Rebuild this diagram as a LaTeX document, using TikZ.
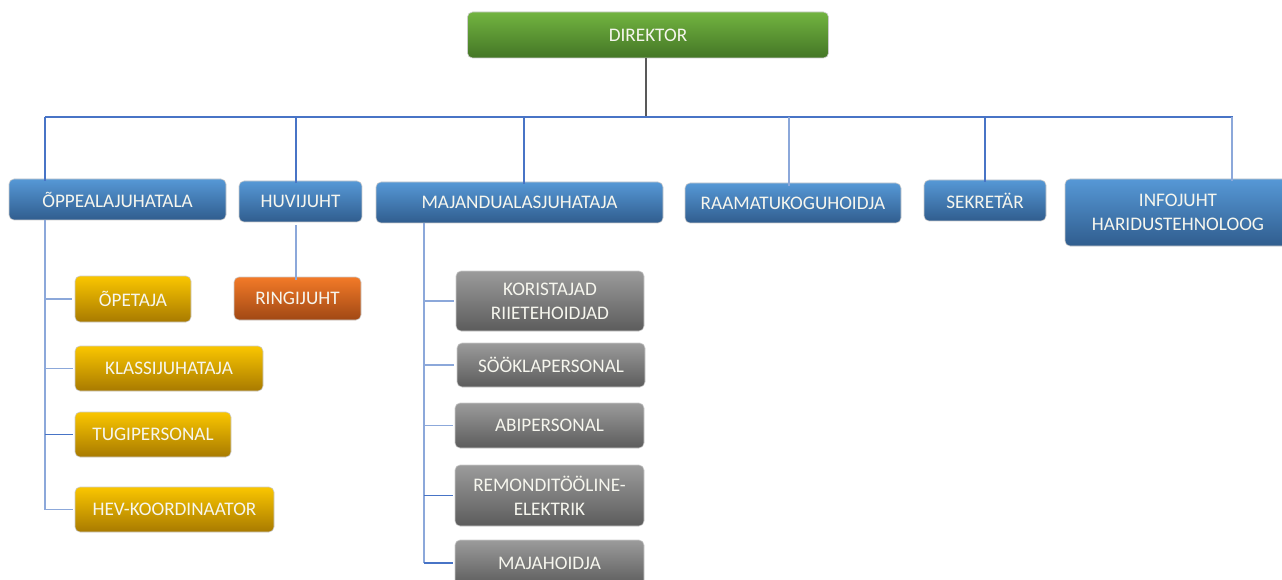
\documentclass[tikz,border=0pt]{standalone}
\usepackage{fontspec}
\setmainfont{Carlito}
\definecolor{bluetop}{RGB}{86,152,214}
\definecolor{bluebot}{RGB}{48,93,142}
\definecolor{greentop}{RGB}{114,180,64}
\definecolor{greenbot}{RGB}{68,118,38}
\definecolor{goldtop}{RGB}{250,198,0}
\definecolor{goldbot}{RGB}{168,122,0}
\definecolor{orangetop}{RGB}{243,122,40}
\definecolor{orangebot}{RGB}{160,72,20}
\definecolor{graytop}{RGB}{155,155,155}
\definecolor{graybot}{RGB}{92,92,92}
\definecolor{linecol}{RGB}{72,116,198}
\definecolor{linelight}{RGB}{140,168,218}
\definecolor{txt}{RGB}{246,246,238}
\tikzset{
  box/.style={rectangle, rounded corners=5pt, draw=white!80!black, line width=0.6pt,
    text=txt, font=\fontsize{19.2}{24}\selectfont, align=center, inner sep=0pt},
  bluebox/.style={box, top color=bluetop, bottom color=bluebot},
  greenbox/.style={box, top color=greentop, bottom color=greenbot},
  goldbox/.style={box, top color=goldtop, bottom color=goldbot},
  orangebox/.style={box, top color=orangetop, bottom color=orangebot},
  graybox/.style={box, top color=graytop, bottom color=graybot},
  conn/.style={draw=linecol, line width=1.1pt},
  connl/.style={draw=linelight, line width=1.3pt},
}
\begin{document}
\begin{tikzpicture}[x=1pt,y=-1pt]
\useasboundingbox (0,0) rectangle (1282,580);
% top
\node[greenbox, minimum width=361pt, minimum height=46pt] (dir) at (648,35) {DIREKTOR};
% level 1
\node[bluebox, minimum width=217pt, minimum height=41pt] (opp) at (117.5,199.5) {ÕPPEALAJUHATALA};
\node[bluebox, minimum width=123pt, minimum height=41pt] (huvi) at (300.5,201.5) {HUVIJUHT};
\node[bluebox, minimum width=287pt, minimum height=41pt] (maj) at (519.5,202.5) {MAJANDUALASJUHATAJA};
\node[bluebox, minimum width=216pt, minimum height=40pt] (raam) at (793,203) {RAAMATUKOGUHOIDJA};
\node[bluebox, minimum width=122pt, minimum height=41pt] (sekr) at (985,200.5) {SEKRETÄR};
\node[bluebox, minimum width=226pt, minimum height=67pt] (info) at (1178,212.5) {INFOJUHT\\HARIDUSTEHNOLOOG};
% level 2 left
\node[goldbox, minimum width=116pt, minimum height=46pt] (ope) at (133,299) {ÕPETAJA};
\node[goldbox, minimum width=188pt, minimum height=45pt] (klass) at (169,368.5) {KLASSIJUHATAJA};
\node[goldbox, minimum width=156pt, minimum height=45pt] (tugi) at (153,434.5) {TUGIPERSONAL};
\node[goldbox, minimum width=199pt, minimum height=45pt] (hev) at (174.5,509.5) {HEV-KOORDINAATOR};
\node[orangebox, minimum width=127pt, minimum height=43pt] (ring) at (297.5,298.5) {RINGIJUHT};
% level 2 majand
\node[graybox, minimum width=188pt, minimum height=60pt] (kor) at (550,301) {KORISTAJAD\\RIIETEHOIDJAD};
\node[graybox, minimum width=188pt, minimum height=44pt] (soo) at (551,365) {SÖÖKLAPERSONAL};
\node[graybox, minimum width=189pt, minimum height=45pt] (abi) at (549.5,425.5) {ABIPERSONAL};
\node[graybox, minimum width=189pt, minimum height=61pt] (rem) at (549.5,495.5) {REMONDITÖÖLINE-\\ELEKTRIK};
\node[graybox, minimum width=189pt, minimum height=46pt] (maja) at (549.5,563) {MAJAHOIDJA};
% bus
\coordinate (busL) at (45,117);
\coordinate (busR) at (1233,117);
\coordinate (busD) at (646,117);
\coordinate (b2) at (296,117);
\coordinate (b3) at (524,117);
\coordinate (b4) at (789,117);
\coordinate (b5) at (985,117);
\coordinate (b6) at (1232,117);
\draw[draw=black!65, line width=1.1pt] (dir.south -| busD) -- (busD);
\draw[conn] (busL) -- (busR);
\draw[conn] (busL) -- ([yshift=-2pt]busL |- opp.north);
\draw[conn] (b2) -- ([yshift=-2pt]b2 |- huvi.north);
\draw[conn] (b3) -- ([yshift=-2pt]b3 |- maj.north);
\draw[connl] (b4) -- ([yshift=-3pt]b4 |- raam.north);
\draw[conn] (b5) -- ([yshift=-2pt]b5 |- sekr.north);
\draw[connl] (b6) -- ([yshift=-2pt]b6 |- info.north);
% left tree
\coordinate (v1) at (45,220);
\draw[connl] (v1) -- (v1 |- hev.west);
\draw[connl] (v1 |- ope.west) -- ([xshift=-3pt]ope.west);
\draw[connl] (v1 |- klass.west) -- ([xshift=-2pt]klass.west);
\draw[conn] (v1 |- tugi.west) -- ([xshift=-2pt]tugi.west);
\draw[connl] (v1 |- hev.west) -- ([xshift=-2pt]hev.west);
% huvijuht
\coordinate (v2) at (296,225);
\draw[connl] (v2) -- ([yshift=-3pt]v2 |- ring.north);
% majand tree
\coordinate (v3) at (424,223);
\draw[connl] (v3) -- (v3 |- maja.west);
\draw[connl] (v3 |- kor.west) -- ([xshift=-2pt]kor.west);
\draw[connl] (v3 |- soo.west) -- ([xshift=-3pt]soo.west);
\draw[connl] (v3 |- abi.west) -- ([xshift=-2pt]abi.west);
\draw[conn] (v3 |- rem.west) -- ([xshift=-2pt]rem.west);
\draw[conn] (v3 |- maja.west) -- ([xshift=-2pt]maja.west);
\end{tikzpicture}
\end{document}
